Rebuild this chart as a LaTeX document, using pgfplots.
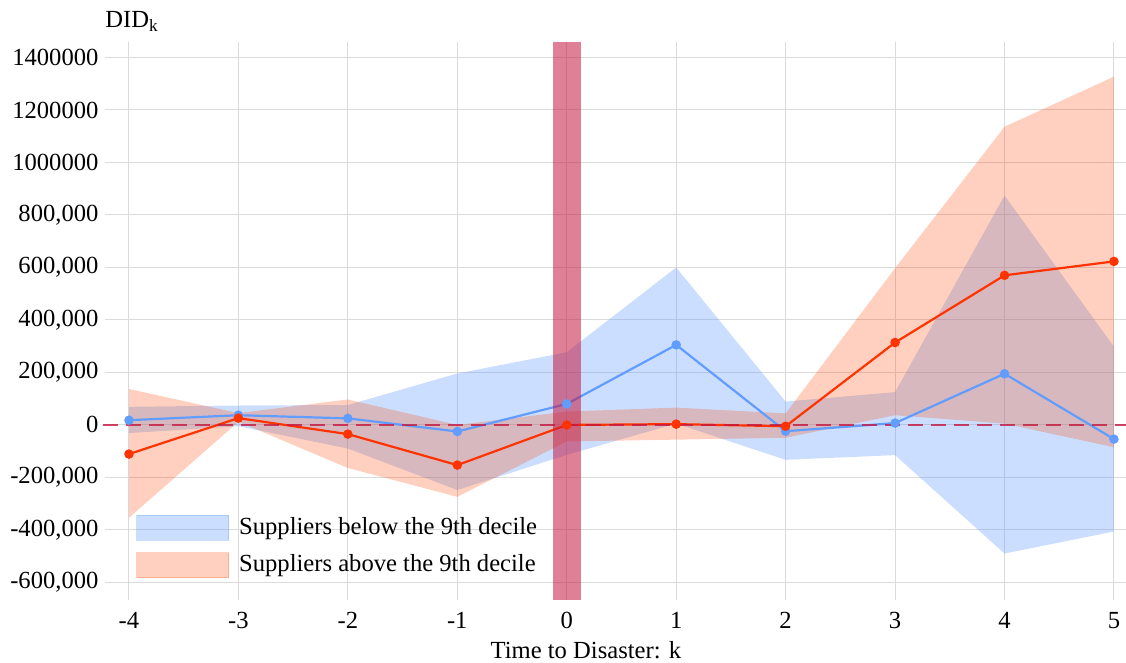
\documentclass[border=0pt]{standalone}
\usepackage{pgfplots}
\pgfplotsset{compat=1.18}
\usepgfplotslibrary{fillbetween}
\usepackage{fontspec}
\setmainfont{Liberation Serif}
\definecolor{bl}{RGB}{97,156,255}
\definecolor{rd}{RGB}{255,51,0}
\definecolor{bfill}{RGB}{97,156,255}
\definecolor{rfill}{RGB}{255,69,0}
\definecolor{crim}{RGB}{197,24,64}
\definecolor{gridc}{RGB}{218,218,218}
\pgfplotstableread{
k blue blo bhi red rlo rhi
-4 18000 -31000 69000 -111000 -354000 137000
-3 37000 -5000 74000 26000 12000 45000
-2 25000 -90000 76000 -35000 -164000 97000
-1 -25000 -248000 196000 -153000 -274000 0
0 80000 -114000 277000 0 -63000 51000
1 305000 5000 600000 3000 -56000 66000
2 -24000 -133000 89000 -5000 -49000 44000
3 7000 -115000 125000 314000 37000 597000
4 195000 -490000 874000 570000 5000 1136000
5 -54000 -406000 298000 623000 -85000 1327000
}\data
\begin{document}
\fontsize{12.3}{14.5}\selectfont
\begin{tikzpicture}
\begin{axis}[
  scale only axis,
  width=510.5pt, height=279pt,
  xmin=-4.219, xmax=5.11,
  ymin=-667000, ymax=1459000,
  scaled y ticks=false,
  axis line style={draw=none},
  major tick length=0pt,
  xtick={-4,-3,-2,-1,0,1,2,3,4,5},
  xticklabels={-4,-3,-2,-1,0,1,2,3,4,5},
  ytick={-600000,-400000,-200000,0,200000,400000,600000,800000,1000000,1200000,1400000},
  yticklabels={{-600,000},{-400,000},{-200,000},0,{200,000},{400,000},{600,000},{800,000},1000000,1200000,1400000},
  ticklabel style={font=\fontsize{12.3}{14.5}\selectfont},
  yticklabel style={xshift=1pt},
  xticklabel style={yshift=-2pt},
  grid=major,
  major grid style={gridc, line width=0.5pt},
  xlabel={Time to Disaster: k},
  xlabel style={at={(axis description cs:0.471,0)}, anchor=north, yshift=-16.5pt, font=\fontsize{12.3}{14.5}\selectfont},
  clip=false,
  legend style={at={(axis description cs:0,0)}, anchor=south west, xshift=15.5pt, yshift=10pt, draw=none, fill=none, inner sep=0pt, row sep=4.5pt, font=\fontsize{12.3}{14.5}\selectfont, cells={anchor=west}},
  legend cell align=left,
]
% legend entries
\addlegendimage{legend image code/.code={\fill[bfill, opacity=0.33] (0pt,-6.25pt) rectangle (46pt,6.25pt);}}
\addlegendentry{\hspace{3pt}Suppliers below the 9th decile}
\addlegendimage{legend image code/.code={\fill[rfill, opacity=0.25] (0pt,-6.25pt) rectangle (46pt,6.25pt);}}
\addlegendentry{\hspace{3pt}Suppliers above the 9th decile}
% blue band
\addplot[draw=none, name path=bh, forget plot] table[x=k, y=bhi] {\data};
\addplot[draw=none, name path=bl, forget plot] table[x=k, y=blo] {\data};
\addplot[bfill, opacity=0.33, draw=none, forget plot] fill between[of=bh and bl];
\addplot[bl, line width=1.1pt, mark=*, mark size=1.8pt, mark options={fill=bl, draw=bl}, forget plot] table[x=k, y=blue] {\data};
% red band
\addplot[draw=none, name path=rh, forget plot] table[x=k, y=rhi] {\data};
\addplot[draw=none, name path=rl, forget plot] table[x=k, y=rlo] {\data};
\addplot[rfill, opacity=0.25, draw=none, forget plot] fill between[of=rh and rl];
\addplot[rd, line width=1.1pt, mark=*, mark size=1.8pt, mark options={fill=rd, draw=rd}, forget plot] table[x=k, y=red] {\data};
% zero line
\addplot[crim, opacity=0.8, line width=1pt, dash pattern=on 7.5pt off 4pt, forget plot] coordinates {(-4.24,0) (5.11,0)};
% disaster bar
\addplot[draw=none, fill=crim, opacity=0.55, forget plot] coordinates {(-0.128,-667000) (0.128,-667000) (0.128,1459000) (-0.128,1459000)} -- cycle;
\node[anchor=south west, inner sep=0pt] at (rel axis cs:0,1) [yshift=5pt] {DID\textsubscript{k}};
\coordinate (ll) at (rel axis cs:0,0);
\coordinate (ur) at (rel axis cs:1,1);
\end{axis}
\pgfresetboundingbox
\path ([xshift=-52.5pt, yshift=-31pt]ll) rectangle ([yshift=21pt]ur);
\end{tikzpicture}
\end{document}
